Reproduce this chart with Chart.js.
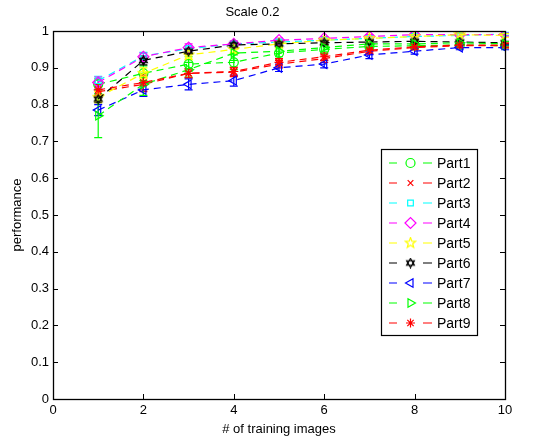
<!DOCTYPE html>
<html>
<head>
<meta charset="utf-8">
<script src="https://cdn.jsdelivr.net/npm/chart.js@4.4.0/dist/chart.umd.min.js"></script>
<style>
body{margin:0;background:#fff;}
#wrap{width:542px;height:440px;}
</style>
</head>
<body>
<div id="wrap"><canvas id="c" width="542" height="440"></canvas></div>
<script>
// data
var trainImages = [1, 2, 3, 4, 5, 6, 7, 8, 9, 10];
var partNames = ['Part1', 'Part2', 'Part3', 'Part4', 'Part5', 'Part6', 'Part7', 'Part8', 'Part9'];
var part1 = [0.855, 0.885, 0.910, 0.915, 0.940, 0.950, 0.958, 0.960, 0.962, 0.960];
var part2 = [0.835, 0.855, 0.885, 0.888, 0.910, 0.925, 0.945, 0.955, 0.960, 0.960];
var part3 = [0.865, 0.932, 0.952, 0.965, 0.970, 0.975, 0.980, 0.985, 0.988, 0.992];
var part4 = [0.860, 0.930, 0.955, 0.965, 0.975, 0.980, 0.985, 0.990, 0.990, 0.990];
var part5 = [0.820, 0.885, 0.935, 0.950, 0.965, 0.975, 0.980, 0.985, 0.990, 0.988];
var part6 = [0.815, 0.920, 0.945, 0.962, 0.965, 0.968, 0.970, 0.972, 0.970, 0.968];
var part7 = [0.785, 0.840, 0.855, 0.865, 0.900, 0.910, 0.935, 0.945, 0.955, 0.955];
var part8 = [0.770, 0.855, 0.895, 0.940, 0.945, 0.955, 0.965, 0.965, 0.968, 0.965];
var part9 = [0.840, 0.860, 0.885, 0.890, 0.915, 0.930, 0.948, 0.957, 0.962, 0.962];
// half length of the error bars
var err1 = [0.015, 0.020, 0.020, 0.020, 0.015, 0.010, 0.010, 0.008, 0.008, 0.006];
var err2 = [0.015, 0.020, 0.012, 0.012, 0.010, 0.010, 0.008, 0.006, 0.006, 0.006];
var err3 = [0.012, 0.010, 0.008, 0.006, 0.006, 0.005, 0.005, 0.004, 0.004, 0.004];
var err4 = [0.015, 0.010, 0.010, 0.008, 0.006, 0.005, 0.005, 0.004, 0.004, 0.004];
var err5 = [0.015, 0.015, 0.012, 0.010, 0.008, 0.006, 0.006, 0.005, 0.005, 0.005];
var err6 = [0.010, 0.012, 0.008, 0.006, 0.006, 0.005, 0.005, 0.004, 0.004, 0.004];
var err7 = [0.015, 0.018, 0.015, 0.015, 0.010, 0.010, 0.010, 0.008, 0.006, 0.006];
var err8 = [0.060, 0.030, 0.020, 0.020, 0.015, 0.010, 0.010, 0.008, 0.006, 0.006];
var err9 = [0.015, 0.020, 0.012, 0.012, 0.010, 0.010, 0.008, 0.006, 0.006, 0.006];
var xTicks = [0, 2, 4, 6, 8, 10];
var yTicks = [0, 0.1, 0.2, 0.3, 0.4, 0.5, 0.6, 0.7, 0.8, 0.9, 1];

var series = [part1, part2, part3, part4, part5, part6, part7, part8, part9];
var errs = [err1, err2, err3, err4, err5, err6, err7, err8, err9];
var colors = ['#00ff00', '#ff0000', '#00ffff', '#ff00ff', '#ffff00', '#000000', '#0000ff', '#00ff00', '#ff0000'];

// star shaped markers drawn on little canvases
function starMarker(color, n, rOut, rIn){
	var c = document.createElement('canvas');
	c.width = 13; c.height = 13;
	var g = c.getContext('2d');
	g.strokeStyle = color;
	g.lineWidth = 1.2;
	g.beginPath();
	for (var i = 0; i < n * 2; i++) {
		var r = i % 2 ? rIn : rOut;
		var a = -Math.PI / 2 + i * Math.PI / n;
		var px = 6.5 + r * Math.cos(a), py = 6.5 + r * Math.sin(a);
		if (i == 0) g.moveTo(px, py); else g.lineTo(px, py);
	}
	g.closePath();
	g.stroke();
	return c;
}
function hexMarker(color){
	var c = document.createElement('canvas');
	c.width = 11; c.height = 11;
	var g = c.getContext('2d');
	g.strokeStyle = color;
	g.lineWidth = 1.2;
	[0, Math.PI].forEach(function(off){
		g.beginPath();
		for (var i = 0; i < 3; i++) {
			var a = -Math.PI / 2 + off + i * 2 * Math.PI / 3;
			var px = 5.5 + 4.5 * Math.cos(a), py = 5.5 + 4.5 * Math.sin(a);
			if (i == 0) g.moveTo(px, py); else g.lineTo(px, py);
		}
		g.closePath();
		g.stroke();
	});
	return c;
}
var markers = ['circle', 'crossRot', 'rect', 'rectRot', starMarker('#ffff00', 5, 5.5, 2.3), hexMarker('#000000'), 'triangle', 'triangle', 'star'];
var rotations = [0, 0, 0, 0, 0, 0, -90, 90, 0];
var radii = [4.5, 4, 4, 5.5, 5, 5, 5, 5, 4.5];

var datasets = series.map(function(vals, i){
	return {
		label: partNames[i],
		data: trainImages.map(function(x, k){ return {x: x, y: vals[k]}; }),
		borderColor: colors[i],
		backgroundColor: 'transparent',
		pointBackgroundColor: 'transparent',
		pointBorderColor: colors[i],
		borderWidth: 1.2,
		borderDash: [7, 5],
		pointStyle: markers[i],
		pointRotation: rotations[i],
		pointRadius: radii[i],
		pointBorderWidth: 1.2,
		tension: 0,
		order: 9 - i
	};
});

var errorBars = {
	id: 'errorBars',
	beforeDatasetsDraw: function(chart){
		var ctx = chart.ctx, ys = chart.scales.y;
		ctx.save();
		ctx.lineWidth = 1.2;
		chart.data.datasets.forEach(function(ds, i){
			var meta = chart.getDatasetMeta(i);
			ctx.strokeStyle = colors[i];
			meta.data.forEach(function(pt, k){
				var v = series[i][k], e = errs[i][k];
				var y1 = ys.getPixelForValue(v - e), y2 = ys.getPixelForValue(v + e);
				ctx.beginPath();
				ctx.moveTo(pt.x, y1); ctx.lineTo(pt.x, y2);
				ctx.moveTo(pt.x - 4, y1); ctx.lineTo(pt.x + 4, y1);
				ctx.moveTo(pt.x - 4, y2); ctx.lineTo(pt.x + 4, y2);
				ctx.stroke();
			});
		});
		ctx.restore();
	}
};

var frame = {
	id: 'frame',
	afterDraw: function(chart){
		var ctx = chart.ctx, a = chart.chartArea;
		var xs = chart.scales.x, ys = chart.scales.y;
		ctx.save();
		ctx.strokeStyle = '#000';
		ctx.lineWidth = 1.3;
		ctx.strokeRect(a.left + 0.5, a.top + 0.5, a.right - a.left, a.bottom - a.top);
		ctx.lineWidth = 1;
		ctx.beginPath();
		xTicks.forEach(function(t){
			var px = Math.round(xs.getPixelForValue(t)) + 0.5;
			ctx.moveTo(px, a.bottom); ctx.lineTo(px, a.bottom - 5);
			ctx.moveTo(px, a.top); ctx.lineTo(px, a.top + 5);
		});
		yTicks.forEach(function(t){
			var py = Math.round(ys.getPixelForValue(t)) + 0.5;
			ctx.moveTo(a.left, py); ctx.lineTo(a.left + 5, py);
			ctx.moveTo(a.right, py); ctx.lineTo(a.right - 5, py);
		});
		ctx.stroke();

		// legend box, matlab style: dash marker dash label
		var bx = a.right - 124, by = a.top + 118, bw = 96, bh = 186;
		ctx.fillStyle = '#fff';
		ctx.fillRect(bx, by, bw, bh);
		ctx.lineWidth = 1.2;
		ctx.strokeRect(bx + 0.5, by + 0.5, bw, bh);
		ctx.font = '14px "Liberation Sans", Arial, sans-serif';
		ctx.textBaseline = 'middle';
		partNames.forEach(function(name, i){
			var ly = by + 14 + i * 20;
			ctx.strokeStyle = colors[i];
			ctx.lineWidth = 1.2;
			ctx.beginPath();
			ctx.moveTo(bx + 8, ly); ctx.lineTo(bx + 16, ly);
			ctx.moveTo(bx + 42, ly); ctx.lineTo(bx + 51, ly);
			ctx.stroke();
			ctx.fillStyle = 'transparent';
			Chart.helpers.drawPoint(ctx, {pointStyle: markers[i], radius: radii[i], rotation: rotations[i], borderWidth: 1.2}, bx + 29.5, ly);
			ctx.fillStyle = '#000';
			ctx.fillText(name, bx + 56, ly + 1);
		});
		ctx.restore();
	}
};

Chart.defaults.font.family = '"Liberation Sans", Arial, sans-serif';
Chart.defaults.font.size = 13;
Chart.defaults.color = '#000';

new Chart(document.getElementById('c'), {
	type: 'line',
	data: {datasets: datasets},
	options: {
		responsive: false,
		animation: false,
		layout: {padding: {right: 37}},
		plugins: {
			legend: {display: false},
			tooltip: {enabled: false},
			title: {
				display: true,
				text: 'Scale 0.2',
				font: {size: 13, weight: 'normal'},
				padding: {top: 4.5, bottom: 10.9}
			}
		},
		scales: {
			x: {
				type: 'linear',
				min: 0, max: 10,
				afterBuildTicks: function(s){ s.ticks = xTicks.map(function(v){ return {value: v}; }); },
				afterFit: function(s){ s.height = 41; },
				grid: {display: false, drawTicks: false},
				border: {display: false},
				ticks: {padding: 4, maxRotation: 0},
				title: {display: true, text: '# of training images', font: {size: 13}, padding: {bottom: 3}}
			},
			y: {
				min: 0, max: 1,
				afterBuildTicks: function(s){ s.ticks = yTicks.map(function(v){ return {value: v}; }); },
				afterFit: function(s){ s.width = 53; },
				grid: {display: false, drawTicks: false},
				border: {display: false},
				ticks: {padding: 4, callback: function(v){ return String(+v.toFixed(1)); }},
				title: {display: true, text: 'performance', font: {size: 13}, padding: {top: 10}}
			}
		}
	},
	plugins: [errorBars, frame]
});
</script>
</body>
</html>
